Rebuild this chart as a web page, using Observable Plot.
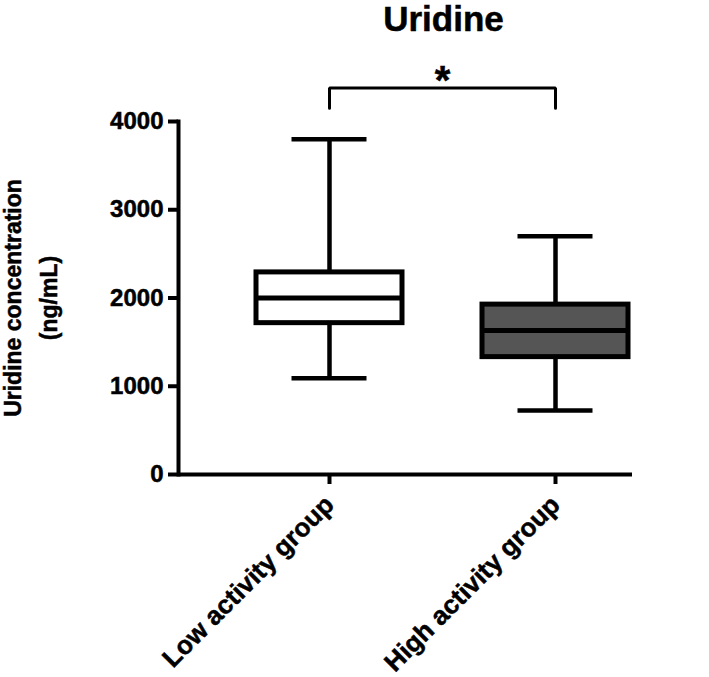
<!DOCTYPE html>
<html><head><meta charset="utf-8">
<script src="https://cdn.jsdelivr.net/npm/d3@7"></script>
<script src="https://cdn.jsdelivr.net/npm/@observablehq/plot@0.6"></script>
<style>
body{margin:0;background:#fff}
svg{font-family:"Liberation Sans",Arial,sans-serif;}
svg text{font-weight:bold;fill:#000;stroke:#000;stroke-width:0.5px}
</style>
</head><body><div id="chart"></div>
<script>
const groups = ["Low activity group", "High activity group"];
const mins = [1090, 725];
const q1s = [1715, 1330];
const medians = [2000, 1632];
const q3s = [2290, 1925];
const maxs = [3800, 2700];
const fills = ["#ffffff", "#555555"];
const yTicks = [0, 1000, 2000, 3000, 4000];
const title = "Uridine";
const yLabel = "Uridine concentration\n(ng/mL)";
const sigLabel = "*";
const bracketBase = 4150, bracketTop = 4380;

const rows = groups.map((g, i) => ({group: g, min: mins[i], q1: q1s[i], median: medians[i], q3: q3s[i], max: maxs[i], fill: fills[i]}));
const bracket = [
  {x: groups[0], y: bracketBase}, {x: groups[0], y: bracketTop},
  {x: groups[1], y: bracketTop}, {x: groups[1], y: bracketBase}
];

const chart = Plot.plot({
  width: 709, height: 677,
  marginTop: 121, marginBottom: 203, marginLeft: 178, marginRight: 77,
  style: {background: "white", color: "black"},
  x: {type: "band", domain: groups, range: [216, 668], paddingInner: 0.354, paddingOuter: 0.177, axis: null},
  y: {domain: [0, 4000], axis: null},
  color: {type: "identity"},
  marks: [
    Plot.axisY({ticks: yTicks, tickSize: 10, tickPadding: 5, strokeWidth: 4, fontSize: 24, tickFormat: d3.format("d"), label: null}),
    Plot.axisX({tickSize: 10, tickPadding: 16, strokeWidth: 4, fontSize: 26, tickRotate: -45, label: null}),
    Plot.frame({anchor: "left", strokeWidth: 4}),
    Plot.ruleY([0], {strokeWidth: 4}),
    Plot.ruleX(rows, {x: "group", y1: "q3", y2: "max", strokeWidth: 4.5}),
    Plot.ruleX(rows, {x: "group", y1: "min", y2: "q1", strokeWidth: 4.5}),
    Plot.tickY(rows, {x: "group", y: "max", insetLeft: 35.5, insetRight: 35.5, strokeWidth: 4.5}),
    Plot.tickY(rows, {x: "group", y: "min", insetLeft: 35.5, insetRight: 35.5, strokeWidth: 4.5}),
    Plot.barY(rows, {x: "group", y1: "q1", y2: "q3", fill: "fill", stroke: "black", strokeWidth: 5}),
    Plot.tickY(rows, {x: "group", y: "median", strokeWidth: 5}),
    Plot.line(bracket, {x: "x", y: "y", strokeWidth: 3, strokeLinejoin: "miter"}),
    Plot.text([sigLabel], {x: () => groups[1], y: () => bracketTop, dx: -113, dy: 6, fontSize: 40, lineAnchor: "bottom"}),
    Plot.text([title], {frameAnchor: "top", dx: 38, dy: -91, fontSize: 35, lineAnchor: "bottom"}),
    Plot.text([yLabel], {frameAnchor: "left", rotate: -90, dx: -151, fontSize: 23, lineHeight: 1.55, textAnchor: "middle", lineAnchor: "middle"})
  ]
});
document.getElementById("chart").append(chart);
</script>
</body></html>
